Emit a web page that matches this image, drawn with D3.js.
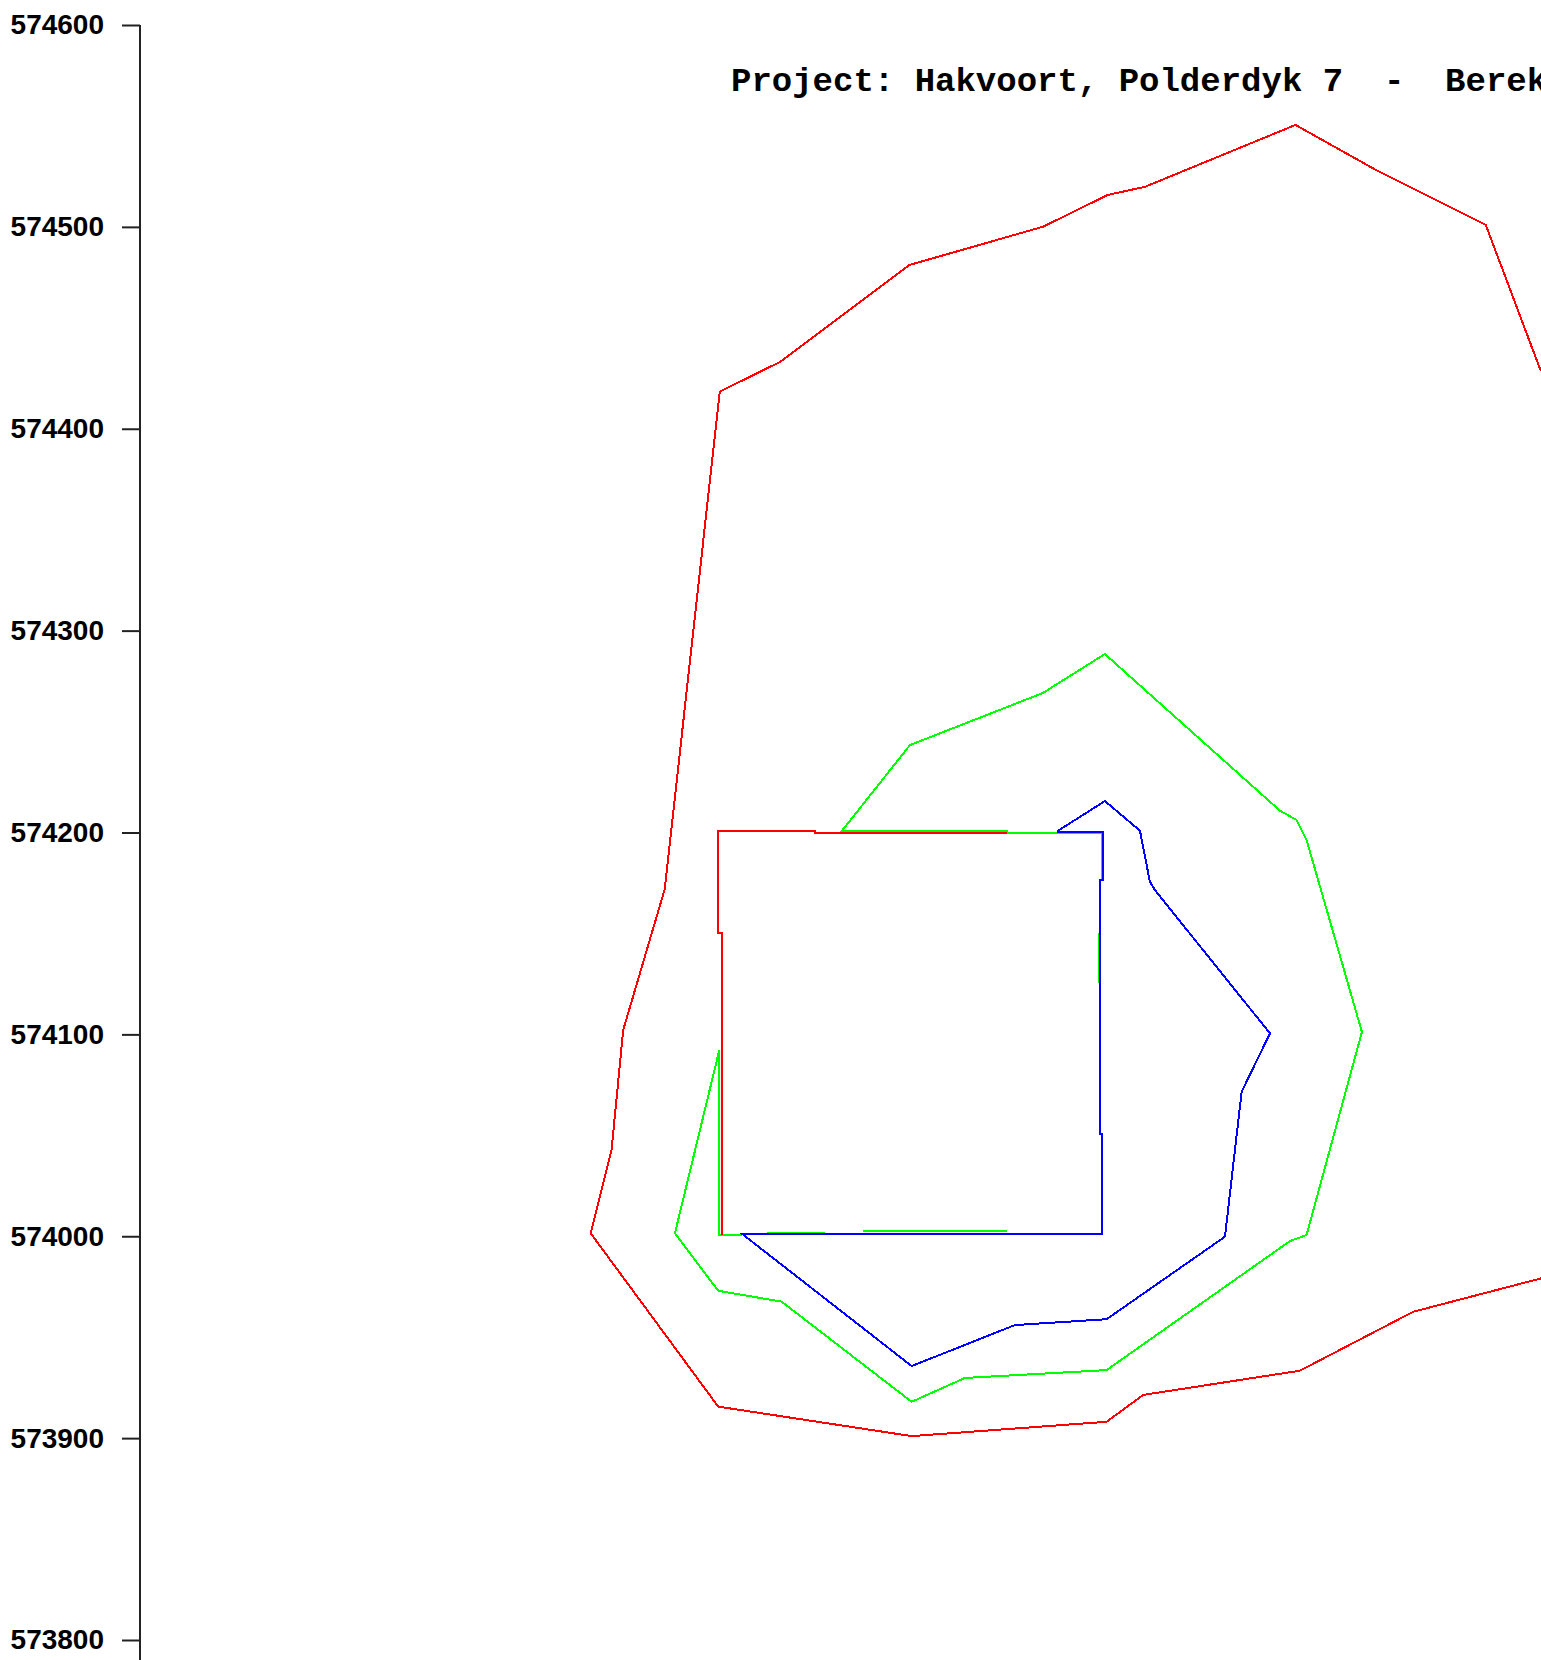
<!DOCTYPE html>
<html>
<head>
<meta charset="utf-8">
<script src="https://cdn.jsdelivr.net/npm/d3@7"></script>
<style>
  html, body { margin: 0; padding: 0; background: #fff; overflow: hidden; }
  svg { display: block; }
</style>
</head>
<body>
<div id="chart"></div>
<script>
// ---- data ----
const titleText = "Project: Hakvoort, Polderdyk 7  -  Berekening";
const yTicks = [574600, 574500, 574400, 574300, 574200, 574100, 574000, 573900, 573800];
const xDomain = [-302.3, 429.2];
const yDomain = [573800, 574600];

// red contour (outer)
const redLines = [
  [[429.1,574428.6],[400.4,574500.9],[343.0,574528.2],[301.0,574550.5],[222.6,574519.9],[202.9,574515.8],
   [169.3,574500.1],[99.3,574481.1],[32.1,574433.2],[0.4,574418.4],[-28.3,574172.0],[-50.0,574102.2],
   [-56.1,574042.7],[-67.0,574001.5],[-0.4,573915.6],[100.6,573901.0],[202.4,573908.1],[221.5,573921.4],
   [303.3,573933.4],[362.5,573962.6],[429.1,573979.1]],
  [[150.2,574199.6],[50.1,574199.6],[50.1,574200.7],[-0.4,574200.7],[-0.4,574150.2],[1.4,574150.2],[1.4,574000.6]]
];

// green contour (middle)
const greenLines = [
  [[199.8,574176.5],[199.8,574199.6],[150.2,574199.6],[150.2,574200.7],[64.1,574200.7],[99.7,574243.3],
   [169.1,574269.1],[201.5,574288.4],[292.9,574210.8],[301.6,574206.2],[306.8,574196.3],[335.7,574101.2],
   [306.8,574000.6],[298.1,573997.6],[202.4,573933.7],[128.4,573929.8],[100.6,573918.0],[32.7,573967.6],
   [-0.4,573973.0],[-23.0,574001.5],[0.2,574092.3],[0.2,574000.6],[11.9,574000.6]],
  [[198.5,574150.2],[198.5,574125.4]],
  [[24.9,574001.8],[55.3,574001.8]],
  [[75.3,574002.7],[150.2,574002.7]]
];

// blue contour (inner)
const blueLines = [
  [[176.3,574200.4],[201.5,574215.6],[219.8,574200.9],[225.0,574175.6],[227.6,574171.5],[287.7,574100.5],
   [272.9,574071.6],[264.2,573999.8],[202.4,573958.9],[154.5,573956.0],[100.6,573935.7],[11.9,574001.3],
   [199.9,574001.3],[199.9,574050.6],[199.2,574050.6],[199.2,574176.5],[200.7,574176.5],[200.7,574200.4],
   [176.3,574200.4]]
];

const seriesColors = { red: "#ff0000", green: "#00ff00", blue: "#0000ff" };

// ---- drawing ----
const W = 1541, H = 1660;
const svg = d3.select("#chart").append("svg").attr("width", W).attr("height", H);

const x = d3.scaleLinear().domain(xDomain).range([140, 1541]);
const y = d3.scaleLinear().domain(yDomain).range([1640, 25]);

const line = d3.line().x(d => x(d[0])).y(d => y(d[1]));

function drawSeries(lines, color) {
  svg.append("g")
    .selectAll("path")
    .data(lines)
    .join("path")
    .attr("d", line)
    .attr("fill", "none")
    .attr("stroke", color)
    .attr("stroke-width", 2)
    .attr("shape-rendering", "crispEdges");
}
drawSeries(greenLines, seriesColors.green);
drawSeries(blueLines, seriesColors.blue);
drawSeries(redLines, seriesColors.red);

// y axis
const axis = d3.axisLeft(y)
  .tickValues(yTicks)
  .tickFormat(d3.format("d"))
  .tickSize(18)
  .tickSizeOuter(0)
  .tickPadding(18);

const gAxis = svg.append("g").attr("transform", "translate(140,0)").call(axis);
gAxis.select(".domain").remove();
gAxis.append("line")
  .attr("x1", 0).attr("x2", 0)
  .attr("y1", y(574600)).attr("y2", H)
  .attr("stroke", "#222").attr("stroke-width", 2);
gAxis.selectAll(".tick line").attr("stroke", "#222").attr("stroke-width", 2);
gAxis.selectAll(".tick text")
  .attr("fill", "#000")
  .style("font-family", "'Liberation Sans', Arial, sans-serif")
  .style("font-size", "28px")
  .style("font-weight", "bold");

// title
svg.append("text")
  .attr("x", 731)
  .attr("y", 91)
  .attr("fill", "#000")
  .style("font-family", "'Liberation Mono', 'Courier New', monospace")
  .style("font-size", "34px")
  .style("font-weight", "bold")
  .style("white-space", "pre")
  .text(titleText);
</script>
</body>
</html>
